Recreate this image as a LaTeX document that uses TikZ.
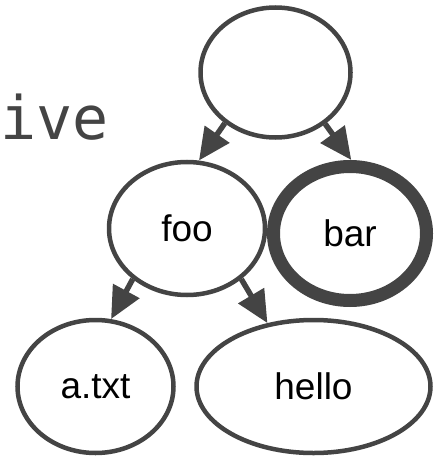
\documentclass[tikz,border=0pt]{standalone}
\usepackage{fontspec}
\setmainfont{Liberation Sans}
\newfontfamily\monofont{DejaVu Sans Mono}
\usetikzlibrary{shapes.geometric,arrows.meta}
\definecolor{treegray}{HTML}{444444}

\begin{document}
\begin{tikzpicture}
[
    x=1pt, y=-1pt,
    dirnode/.style={ellipse, draw=treegray, line width=4.5pt, inner sep=0pt,
        minimum width=156pt, minimum height=133pt,
        font=\fontsize{37}{42}\selectfont},
    fatnode/.style={dirnode, line width=13pt, minimum width=153pt, minimum height=134pt},
    link/.style={draw=treegray, line width=5.5pt, -{Triangle[length=32pt, width=29pt]}},
]
\useasboundingbox (0,0) rectangle (434,457);
\node [anchor=base west, inner sep=0pt, text=treegray,
    font=\monofont\fontsize{60}{72}\selectfont] (word) at (0,140) {ive};
\node [dirnode, minimum width=150pt, minimum height=130pt] (root) at (275.5,72.5) {};
\node [dirnode] (foo) at (187,228.5) {foo};
\node [fatnode] (bar) at (350,233.5) {bar};
\node [dirnode] (atxt) at (95.5,386.5) {a.txt};
\node [dirnode, minimum width=234pt] (hello) at (313.5,386.5) {hello};
\draw [link] (root.225) -- (foo.80);
\draw [link] (root.314) -- (bar.89);
\draw [link] (foo.223) -- (atxt.77);
\draw [link] (foo.317) -- (hello.126);
\end{tikzpicture}
\end{document}
